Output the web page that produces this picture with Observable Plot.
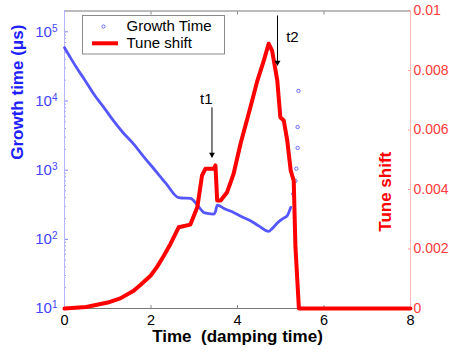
<!DOCTYPE html>
<html><head><meta charset="utf-8">
<script src="https://cdn.jsdelivr.net/npm/d3@7"></script>
<script src="https://cdn.jsdelivr.net/npm/@observablehq/plot@0.6"></script>
<style>
body{margin:0;background:#fff}
#wrap{position:relative;width:449px;height:354px;font-family:"Liberation Sans",Arial,sans-serif}
#wrap svg{position:absolute;left:0;top:0}
#wrap text{white-space:pre}
</style></head><body><div id="wrap"></div>
<script>
// ---- data ----
const growthT = [0, 0.15, 0.3, 0.45, 0.68, 0.9, 1.14, 1.35, 1.6, 1.82, 2.07, 2.35, 2.64, 2.75, 2.91, 3.05, 3.22, 3.3, 3.45, 3.49, 3.53, 3.7, 3.91, 4.1, 4.3, 4.5, 4.72, 4.8, 4.955, 5.05, 5.15, 5.23];
const growthV = [59000, 41000, 29000, 21000, 12500, 8200, 5100, 3500, 2380, 1600, 1040, 640, 400, 395, 390, 327, 245, 238, 232, 250, 313, 277, 245, 212, 186, 155, 130, 143, 180, 199, 220, 290];
const burstT = [5.29, 5.34, 5.36, 5.39, 5.39, 5.41];
const burstV = [455, 700, 1050, 2100, 4200, 14000];

const tuneT = [0, 0.5, 1.0, 1.29, 1.6, 1.76, 1.99, 2.14, 2.3, 2.45, 2.64, 2.91, 3.07, 3.18, 3.26, 3.45, 3.49, 3.53, 3.61, 3.76, 3.91, 4.07, 4.3, 4.46, 4.61, 4.72, 4.8, 4.92, 4.99, 5.07, 5.15, 5.23, 5.3, 5.34, 5.42, 8];
const tuneS = [0, 0.00005, 0.0002, 0.00034, 0.0006, 0.0008, 0.0011, 0.0014, 0.00178, 0.00217, 0.00273, 0.00282, 0.0034, 0.00447, 0.0047, 0.0047, 0.00481, 0.00363, 0.00363, 0.00391, 0.00453, 0.00554, 0.00677, 0.00766, 0.00834, 0.0089, 0.00867, 0.00766, 0.00643, 0.00632, 0.00565, 0.00464, 0.0043, 0.00206, 0, 0];

const xTicks = [0, 2, 4, 6, 8];
const growthTicks = [10, 100, 1000, 10000, 100000];
const tuneTicks = [0, 0.002, 0.004, 0.006, 0.008, 0.01];

const annLabel = ["t1", "t2"];
const annX = [3.41, 4.925];
const annY1 = [0.00676, 0.00985];
const annY2 = [0.00508, 0.00817];
const annLabelX = [3.28, 5.27];
const annLabelY = [0.00703, 0.00911];

const legendLabels = ["Growth Time", "Tune shift"];

// ---- tables ----
const growth = growthT.map((t, i) => ({t, v: growthV[i]}));
const burst = burstT.map((t, i) => ({t, v: burstV[i]}));
const tune = tuneT.map((t, i) => ({t, s: tuneS[i]}));
const ann = annLabel.map((l, i) => ({l, x: annX[i], y1: annY1[i], y2: annY2[i], lx: annLabelX[i], ly: annLabelY[i]}));
const minorTicks = growthTicks.slice(0, -1).flatMap(d => [2,3,4,5,6,7,8,9].map(k => k * d)).concat([200000]);

const BLUE = "#4444ff", RED = "#ff0000";
const common = {
  width: 449, height: 354,
  marginLeft: 64, marginRight: 39, marginTop: 10.5, marginBottom: 46,
  style: {fontFamily: '"Liberation Sans", Arial, sans-serif', fontSize: "15px", background: "transparent", overflow: "visible"}
};

const plotA = Plot.plot({
  ...common,
  x: {domain: [0, 8]},
  y: {type: "log", domain: [10, 200000]},
  marks: [
    Plot.frame({stroke: "#7a7a7a"}),
    Plot.axisX({ticks: xTicks, tickSize: -3, tickPadding: 9, tickFormat: d => String(d), fill: "#000", stroke: "#888", fontSize: 14.5, label: null}),
    Plot.axisX({anchor: "top", ticks: xTicks, tickSize: -3, tickFormat: () => "", stroke: "#888", label: null}),
    Plot.axisY({ticks: minorTicks, tickSize: -2, tickFormat: () => "", stroke: "#9a9aff", label: null}),
    Plot.axisY({ticks: growthTicks, tickSize: -4, tickPadding: 11, tickFormat: d => "10|" + Math.round(Math.log10(d)), stroke: "#8080ff", fill: BLUE, fontSize: 15, label: null}),
    Plot.ruleX([0], {stroke: "#b4b4ff"}),
    Plot.line(growth, {x: "t", y: "v", stroke: BLUE, strokeWidth: 2.8, curve: "monotone-x", strokeOpacity: 0.9}),
    Plot.dot(burst, {x: "t", y: "v", r: 1.7, stroke: "#6a6aff", strokeWidth: 1, fill: "none"}),
    Plot.text(["Growth time (μs)"], {text: d => d, frameAnchor: "left", dx: -47, rotate: -90, fill: "#2020ff", fontWeight: "bold", fontSize: 17}),
    Plot.text(["Time  (damping time)"], {text: d => d, frameAnchor: "bottom", dy: 33, fill: "#000", fontWeight: "bold", fontSize: 17})
  ]
});

const plotB = Plot.plot({
  ...common,
  x: {domain: [0, 8], axis: null},
  y: {domain: [0, 0.01]},
  marks: [
    Plot.axisY({anchor: "right", ticks: tuneTicks, tickSize: -3, tickPadding: 6, tickFormat: d => d === 0 ? "0" : String(+d.toFixed(3)), stroke: "#ff9a9a", fill: "#ff3a3a", fontSize: 14, label: null}),
    Plot.ruleX([8], {stroke: "#ffb8b8"}),
    Plot.line(tune, {x: "t", y: "s", stroke: RED, strokeWidth: 4}),
    Plot.link(ann, {x1: "x", x2: "x", y1: "y1", y2: "y2", stroke: "#000", strokeWidth: 1}),
    Plot.dot(ann, {x: "x", y: "y2", symbol: "triangle", rotate: 180, r: 2.2, fill: "#000", stroke: "none", dy: -3}),
    Plot.text(ann, {x: "lx", y: "ly", text: "l", fill: "#000", fontSize: 15}),
    Plot.text(["Tune shift"], {text: d => d, frameAnchor: "right", dx: -25, dy: -8, rotate: -90, fill: "#ff0000", fontWeight: "bold", fontSize: 17})
  ]
});

const wrap = document.getElementById("wrap");
wrap.appendChild(plotA);
wrap.appendChild(plotB);

// superscript exponents on the log axis labels
d3.select(plotA).selectAll('g[aria-label="y-axis tick label"] text').each(function() {
  const el = d3.select(this);
  const parts = el.text().split("|");
  if (parts.length !== 2) return;
  el.text(parts[0]);
  el.append("tspan").attr("dy", "-0.5em").attr("font-size", "10px").text(parts[1]);
});

// legend
const lg = d3.select(wrap).append("svg").attr("width", 449).attr("height", 354)
  .style("font-family", '"Liberation Sans", Arial, sans-serif').style("font-size", "15px");
lg.append("rect").attr("x", 82.5).attr("y", 15.5).attr("width", 142).attr("height", 38.5).attr("fill", "#fff").attr("stroke", "#8a8a8a");
lg.append("circle").attr("cx", 103.5).attr("cy", 26.5).attr("r", 1.6).attr("fill", "none").attr("stroke", "#6a6aff");
lg.append("line").attr("x1", 92).attr("x2", 118).attr("y1", 43.3).attr("y2", 43.3).attr("stroke", RED).attr("stroke-width", 4);
lg.selectAll("text.lab").data(legendLabels).join("text").attr("class", "lab")
  .attr("x", 126.5).attr("y", (d, i) => 31 + i * 16.5).attr("fill", "#000").text(d => d);
</script></body></html>
